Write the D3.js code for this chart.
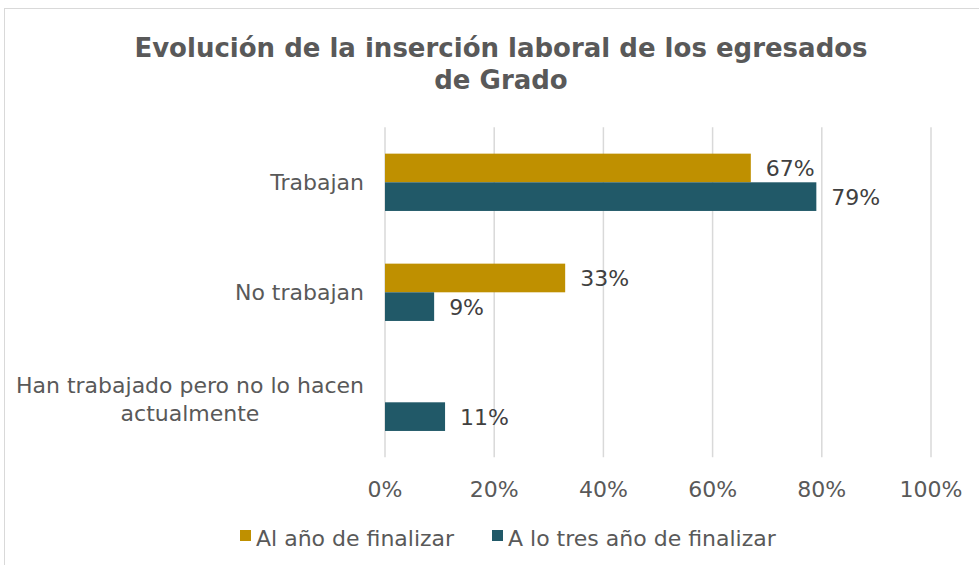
<!DOCTYPE html>
<html>
<head>
<meta charset="utf-8">
<script src="https://cdn.jsdelivr.net/npm/d3@7"></script>
<style>
  body { margin: 0; background: #fff; }
  svg { display: block; font-family: "DejaVu Sans", Verdana, sans-serif; }
</style>
</head>
<body>
<svg id="chart" width="979" height="565"></svg>
<script>
// Data
var categories = ["Trabajan", "No trabajan", "Han trabajado pero no lo hacen actualmente"];
var categoryLines = [["Trabajan"], ["No trabajan"], ["Han trabajado pero no lo hacen", "actualmente"]];
var seriesNames = ["Al año de finalizar", "A lo tres año de finalizar"];
var alAnio = [0.67, 0.33, null];
var aTresAnios = [0.79, 0.09, 0.11];
var ticks = [0, 0.2, 0.4, 0.6, 0.8, 1.0];

var colors = ["#BF9000", "#215968"];
var fs = 22;

var svg = d3.select("#chart"),
    width = 979,
    height = 565;

// chart border (extends past the picture on the right/bottom)
svg.append("rect")
    .attr("x", 4.5).attr("y", 8.5)
    .attr("width", 1000).attr("height", 600)
    .attr("fill", "none")
    .attr("stroke", "#d9d9d9")
    .attr("stroke-width", 1);

// Title
var title = svg.append("text")
    .attr("text-anchor", "middle")
    .attr("fill", "#595959")
    .attr("font-weight", "bold")
    .attr("font-size", 26);
title.append("tspan").attr("x", 501).attr("y", 57).text("Evolución de la inserción laboral de los egresados");
title.append("tspan").attr("x", 501).attr("y", 89).text("de Grado");

// Scales
var x = d3.scaleLinear().domain([0, 1]).range([385, 931]);
var y = d3.scaleBand().domain(categories).range([127.3, 457.3]).paddingInner(0.479).paddingOuter(0.2395);
var ySub = d3.scaleBand().domain([0, 1]).range([0, y.bandwidth()]);

// Gridlines
svg.append("g").selectAll("line")
  .data(ticks)
  .join("line")
    .attr("x1", function(d) { return x(d); })
    .attr("x2", function(d) { return x(d); })
    .attr("y1", 127.3)
    .attr("y2", 457.3)
    .attr("stroke", "#d9d9d9")
    .attr("stroke-width", 1.5);

// Tick labels
svg.append("g").selectAll("text")
  .data(ticks)
  .join("text")
    .attr("x", function(d) { return x(d); })
    .attr("y", 497)
    .attr("text-anchor", "middle")
    .attr("fill", "#595959")
    .attr("font-size", fs)
    .text(d3.format(".0%"));

// Category labels
var catG = svg.append("g").selectAll("text")
  .data(categories)
  .join("text")
    .attr("text-anchor", "middle")
    .attr("fill", "#595959")
    .attr("font-size", fs);

catG.each(function(d, i) {
  var lines = categoryLines[i];
  var t = d3.select(this);
  var cy = y(d) + y.bandwidth() / 2;
  // measure widest line so the block is right-aligned
  var tmp = svg.append("text").attr("font-size", fs);
  var maxW = 0;
  lines.forEach(function(l) {
    tmp.text(l);
    maxW = Math.max(maxW, tmp.node().getComputedTextLength());
  });
  tmp.remove();
  var cx = 364 - maxW / 2;
  var lineH = 28;
  var y0 = lines.length > 1 ? cy - 9 : cy + 8;
  lines.forEach(function(l, j) {
    t.append("tspan").attr("x", cx).attr("y", y0 + j * lineH).text(l);
  });
});

// Bars
var seriesData = [alAnio, aTresAnios];
seriesData.forEach(function(vals, s) {
  var rows = categories.map(function(c, i) { return { cat: c, v: vals[i] }; })
      .filter(function(d) { return d.v != null; });

  svg.append("g").selectAll("rect")
    .data(rows)
    .join("rect")
      .attr("x", x(0))
      .attr("y", function(d) { return y(d.cat) + ySub(s); })
      .attr("width", function(d) { return x(d.v) - x(0); })
      .attr("height", ySub.bandwidth())
      .attr("fill", colors[s]);

  svg.append("g").selectAll("text")
    .data(rows)
    .join("text")
      .attr("x", function(d) { return x(d.v) + 15; })
      .attr("y", function(d) { return y(d.cat) + ySub(s) + ySub.bandwidth() / 2 + 8; })
      .attr("fill", "#404040")
      .attr("font-size", fs)
      .text(function(d) { return d3.format(".0%")(d.v); });
});

// Legend
var legendX = [240, 492];
var legend = svg.append("g").selectAll("g")
  .data(seriesNames)
  .join("g")
    .attr("transform", function(d, i) { return "translate(" + legendX[i] + ",530)"; });
legend.append("rect")
    .attr("width", 11).attr("height", 11)
    .attr("fill", function(d, i) { return colors[i]; });
legend.append("text")
    .attr("x", 16).attr("y", 16)
    .attr("fill", "#595959")
    .attr("font-size", fs)
    .text(function(d) { return d; });
</script>
</body>
</html>
